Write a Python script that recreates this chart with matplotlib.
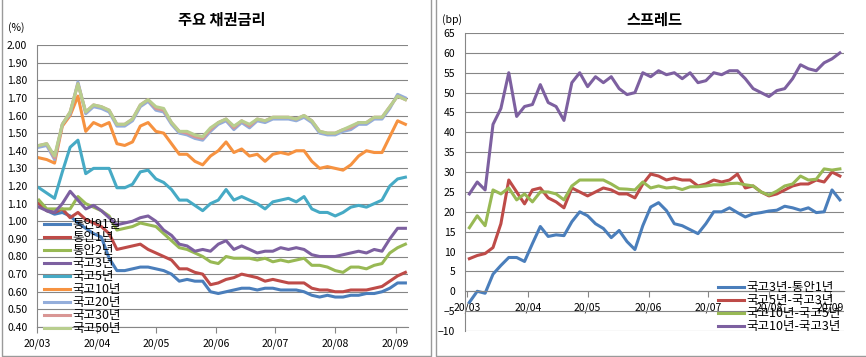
import pandas as pd
import matplotlib.pyplot as plt
import matplotlib.dates as mdates
from matplotlib.lines import Line2D
from matplotlib.ticker import FormatStrFormatter

plt.rcParams['font.family'] = ['Noto Sans CJK KR', 'DejaVu Sans']

# sampled every 4 days from 2020-03-02
dates = pd.date_range("2020-03-02", periods=48, freq="4D")

# --- 주요 채권금리 (%) ---
msb_91d = [1.10, 1.06, 1.04, 1.05, 1.03, 0.99, 0.96, 0.93, 0.91, 0.79,
           0.72, 0.72, 0.73, 0.74, 0.74, 0.73, 0.72, 0.70, 0.66, 0.67,
           0.66, 0.66, 0.60, 0.59, 0.60, 0.61, 0.62, 0.62, 0.61, 0.62,
           0.62, 0.61, 0.61, 0.61, 0.60, 0.58, 0.57, 0.58, 0.57, 0.57,
           0.58, 0.58, 0.59, 0.59, 0.60, 0.62, 0.65, 0.65]
msb_1y = [1.10, 1.06, 1.05, 1.07, 1.02, 1.05, 1.01, 0.99, 0.97, 0.93,
          0.84, 0.85, 0.86, 0.87, 0.84, 0.82, 0.80, 0.78, 0.73, 0.73,
          0.71, 0.70, 0.64, 0.65, 0.67, 0.68, 0.70, 0.69, 0.68, 0.66,
          0.67, 0.66, 0.65, 0.65, 0.65, 0.62, 0.61, 0.61, 0.60, 0.60,
          0.61, 0.61, 0.61, 0.62, 0.63, 0.66, 0.69, 0.71]
msb_2y = [1.12, 1.07, 1.07, 1.07, 1.07, 1.14, 1.10, 1.08, 1.06, 1.03,
          0.95, 0.96, 0.97, 0.99, 0.98, 0.97, 0.93, 0.89, 0.85, 0.84,
          0.82, 0.80, 0.77, 0.76, 0.80, 0.79, 0.79, 0.79, 0.78, 0.79,
          0.77, 0.78, 0.77, 0.78, 0.79, 0.75, 0.75, 0.74, 0.72, 0.71,
          0.74, 0.74, 0.73, 0.75, 0.76, 0.82, 0.85, 0.87]
ktb_3y = [1.08, 1.06, 1.05, 1.10, 1.17, 1.12, 1.07, 1.09, 1.06, 1.02,
          0.98, 0.99, 1.00, 1.02, 1.03, 1.00, 0.95, 0.92, 0.87, 0.86,
          0.83, 0.84, 0.83, 0.87, 0.89, 0.84, 0.86, 0.84, 0.82, 0.83,
          0.83, 0.85, 0.84, 0.85, 0.84, 0.81, 0.80, 0.80, 0.80, 0.81,
          0.82, 0.83, 0.82, 0.84, 0.83, 0.90, 0.96, 0.96]
ktb_5y = [1.19, 1.16, 1.13, 1.28, 1.42, 1.46, 1.27, 1.30, 1.30, 1.30,
          1.19, 1.19, 1.21, 1.28, 1.29, 1.24, 1.22, 1.18, 1.12, 1.12,
          1.09, 1.06, 1.10, 1.12, 1.18, 1.12, 1.14, 1.12, 1.10, 1.07,
          1.11, 1.12, 1.13, 1.11, 1.14, 1.07, 1.05, 1.05, 1.03, 1.05,
          1.08, 1.09, 1.08, 1.10, 1.12, 1.20, 1.24, 1.25]
ktb_10y = [1.36, 1.35, 1.33, 1.54, 1.60, 1.71, 1.51, 1.56, 1.54, 1.56,
           1.44, 1.43, 1.45, 1.54, 1.56, 1.51, 1.50, 1.44, 1.38, 1.38,
           1.34, 1.32, 1.37, 1.40, 1.45, 1.39, 1.41, 1.37, 1.38, 1.34,
           1.38, 1.39, 1.38, 1.40, 1.40, 1.34, 1.30, 1.31, 1.30, 1.29,
           1.32, 1.37, 1.40, 1.39, 1.39, 1.48, 1.57, 1.55]
ktb_20y = [1.42, 1.43, 1.35, 1.55, 1.61, 1.79, 1.61, 1.65, 1.64, 1.62,
           1.54, 1.54, 1.57, 1.65, 1.68, 1.63, 1.62, 1.55, 1.50, 1.49,
           1.47, 1.46, 1.51, 1.55, 1.57, 1.52, 1.56, 1.53, 1.57, 1.56,
           1.58, 1.58, 1.58, 1.57, 1.59, 1.56, 1.50, 1.49, 1.49, 1.51,
           1.52, 1.55, 1.55, 1.58, 1.58, 1.64, 1.72, 1.70]
ktb_30y = [1.43, 1.44, 1.36, 1.55, 1.62, 1.78, 1.62, 1.66, 1.65, 1.63,
           1.55, 1.55, 1.58, 1.66, 1.69, 1.64, 1.63, 1.56, 1.51, 1.50,
           1.48, 1.47, 1.52, 1.56, 1.58, 1.53, 1.57, 1.54, 1.58, 1.57,
           1.59, 1.59, 1.59, 1.58, 1.60, 1.57, 1.51, 1.50, 1.50, 1.52,
           1.53, 1.56, 1.56, 1.59, 1.59, 1.65, 1.71, 1.69]
ktb_50y = [1.43, 1.44, 1.37, 1.55, 1.62, 1.78, 1.62, 1.66, 1.65, 1.63,
           1.55, 1.55, 1.58, 1.66, 1.69, 1.65, 1.64, 1.56, 1.51, 1.51,
           1.49, 1.48, 1.53, 1.56, 1.58, 1.54, 1.57, 1.55, 1.58, 1.57,
           1.59, 1.59, 1.59, 1.58, 1.60, 1.57, 1.51, 1.50, 1.50, 1.52,
           1.54, 1.56, 1.56, 1.59, 1.59, 1.65, 1.71, 1.69]

rate_names = ["통안91일", "통안1년", "통안2년", "국고3년", "국고5년",
              "국고10년", "국고20년", "국고30년", "국고50년"]
rate_series = [msb_91d, msb_1y, msb_2y, ktb_3y, ktb_5y,
               ktb_10y, ktb_20y, ktb_30y, ktb_50y]
rate_colors = ["#4A7EBB", "#BE4B48", "#98B954", "#7D60A0", "#46AAC5",
               "#F69240", "#94AEDB", "#D99694", "#B8CE8E"]

# --- 스프레드 (bp) ---
sp_3y_1y = [-2.8, 0, -0.5, 4.3, 6.5, 8.5, 8.5, 7.5, 12, 16.3,
            13.8, 14.2, 14, 17.5, 20, 19, 17, 15.8, 13.5, 15.3,
            12.5, 10.5, 16.5, 21.2, 22.3, 20.3, 17, 16.5, 15.5, 14.5,
            17, 20, 20, 21, 19.8, 18.7, 19.5, 19.8, 20.2, 20.4,
            21.4, 21, 20.4, 21, 19.8, 20, 25.5, 23]
sp_5y_3y = [8.2, 9.0, 9.5, 11, 17, 28, 25, 22, 25.5, 26,
            23.5, 22.5, 21, 26, 25, 24, 25, 26, 25.5, 24.5,
            24.5, 23.5, 27, 29.5, 29, 28, 28.5, 28, 28, 26.5,
            27, 28, 27.5, 28, 29.5, 26, 26.5, 25, 24, 24.5,
            25.5, 26.5, 27, 27, 28, 27.5, 30, 29]
sp_10y_5y = [16, 19, 16.5, 25.5, 24.5, 26, 23, 24.5, 22.5, 25,
             25, 24.5, 23, 26.5, 28, 28, 28, 28, 27, 25.8,
             25.7, 25.5, 27.5, 26, 26.5, 26, 26.2, 25.6, 26.3, 26.3,
             26.5, 26.8, 26.8, 27.1, 27.2, 26.8, 26.5, 25, 24.2, 25.2,
             26.5, 27, 29, 28, 28.2, 30.8, 30.5, 30.8]
sp_10y_3y = [24.5, 27.5, 25.5, 42, 46, 55, 44, 46.5, 47, 52,
             47.5, 46.5, 43, 52.5, 55, 51.5, 54, 52.5, 54, 51,
             49.5, 50, 55, 54, 55.5, 54.5, 55, 53.5, 55, 52.5,
             53, 55, 54.5, 55.5, 55.5, 53.5, 51, 50, 49, 50.5,
             51, 53.5, 57, 56, 55.5, 57.5, 58.5, 60]

spread_names = ["국고3년-통안1년", "국고5년-국고3년",
                "국고10년-국고5년", "국고10년-국고3년"]
spread_series = [sp_3y_1y, sp_5y_3y, sp_10y_5y, sp_10y_3y]
spread_colors = ["#4A7EBB", "#BE4B48", "#98B954", "#7D60A0"]

W, H = 866, 357
GRID = "#868686"
fig = plt.figure(figsize=(W / 100, H / 100), dpi=100)


def fx(x):
    return x / W


def fy(y):
    return 1 - y / H


def style_axes(ax):
    ax.grid(axis="y", color=GRID, lw=0.8)
    ax.set_axisbelow(True)
    for s in ["top", "right"]:
        ax.spines[s].set_visible(False)
    for s in ["left", "bottom"]:
        ax.spines[s].set_color(GRID)
        ax.spines[s].set_linewidth(0.8)
    ax.xaxis.set_major_locator(mdates.MonthLocator())
    ax.xaxis.set_major_formatter(mdates.DateFormatter("%y/%m"))
    ax.tick_params(axis="y", length=0, labelsize=7.5, pad=7)
    ax.tick_params(axis="x", length=4, color=GRID, labelsize=7.5, pad=4)


# left panel
ax1 = fig.add_axes([fx(37), fy(327), fx(371), 282 / H])
for name, vals, c in zip(rate_names, rate_series, rate_colors):
    ax1.plot(dates, vals, color=c, lw=2.2, label=name, solid_joinstyle="round")
ax1.set_ylim(0.4, 2.0)
ax1.set_yticks([0.4 + 0.1 * k for k in range(17)])
ax1.yaxis.set_major_formatter(FormatStrFormatter("%.2f"))
ax1.set_xlim(pd.Timestamp("2020-03-01"), pd.Timestamp("2020-09-07 08:00"))
style_axes(ax1)
ax1.legend(loc="upper left", bbox_to_anchor=(fx(44), fy(218)),
           bbox_transform=fig.transFigure, frameon=False, fontsize=9,
           handlelength=2.1, handletextpad=0.2, labelspacing=0.0,
           borderpad=0, borderaxespad=0)

# right panel
ax2 = fig.add_axes([fx(465), fy(331), fx(379), 298 / H])
for name, vals, c in zip(spread_names, spread_series, spread_colors):
    ax2.plot(dates, vals, color=c, lw=2.2, label=name, solid_joinstyle="round")
ax2.set_ylim(-10, 65)
ax2.set_yticks(list(range(-10, 66, 5)))
ax2.set_xlim(pd.Timestamp("2020-02-28 19:00"), pd.Timestamp("2020-09-08 02:00"))
style_axes(ax2)
ax2.spines["bottom"].set_position(("data", 0))
ax2.legend(loc="upper left", bbox_to_anchor=(fx(718), fy(281)),
           bbox_transform=fig.transFigure, frameon=False, fontsize=9,
           handlelength=2.1, handletextpad=0.2, labelspacing=0.0,
           borderpad=0, borderaxespad=0)

# titles and units
fig.text(fx(222), fy(20), "주요 채권금리", ha="center", va="center",
         fontsize=11, fontweight="bold")
fig.text(fx(654), fy(20), "스프레드", ha="center", va="center",
         fontsize=11, fontweight="bold")
fig.text(fx(16), fy(28), "(%)", ha="center", va="center", fontsize=7.5)
fig.text(fx(452), fy(20), "(bp)", ha="center", va="center", fontsize=7.5)

# panel frames
frame = dict(transform=fig.transFigure, color="#9a9a9a", lw=1)
fig.add_artist(Line2D([fx(1.5), fx(1.5), fx(430.5), fx(430.5)],
                      [fy(0), fy(355.5), fy(355.5), fy(0)], **frame))
fig.add_artist(Line2D([fx(435.5), fx(435.5), fx(866)],
                      [fy(0), fy(355.5), fy(355.5)], **frame))

fig.savefig("out.png", dpi=100)
